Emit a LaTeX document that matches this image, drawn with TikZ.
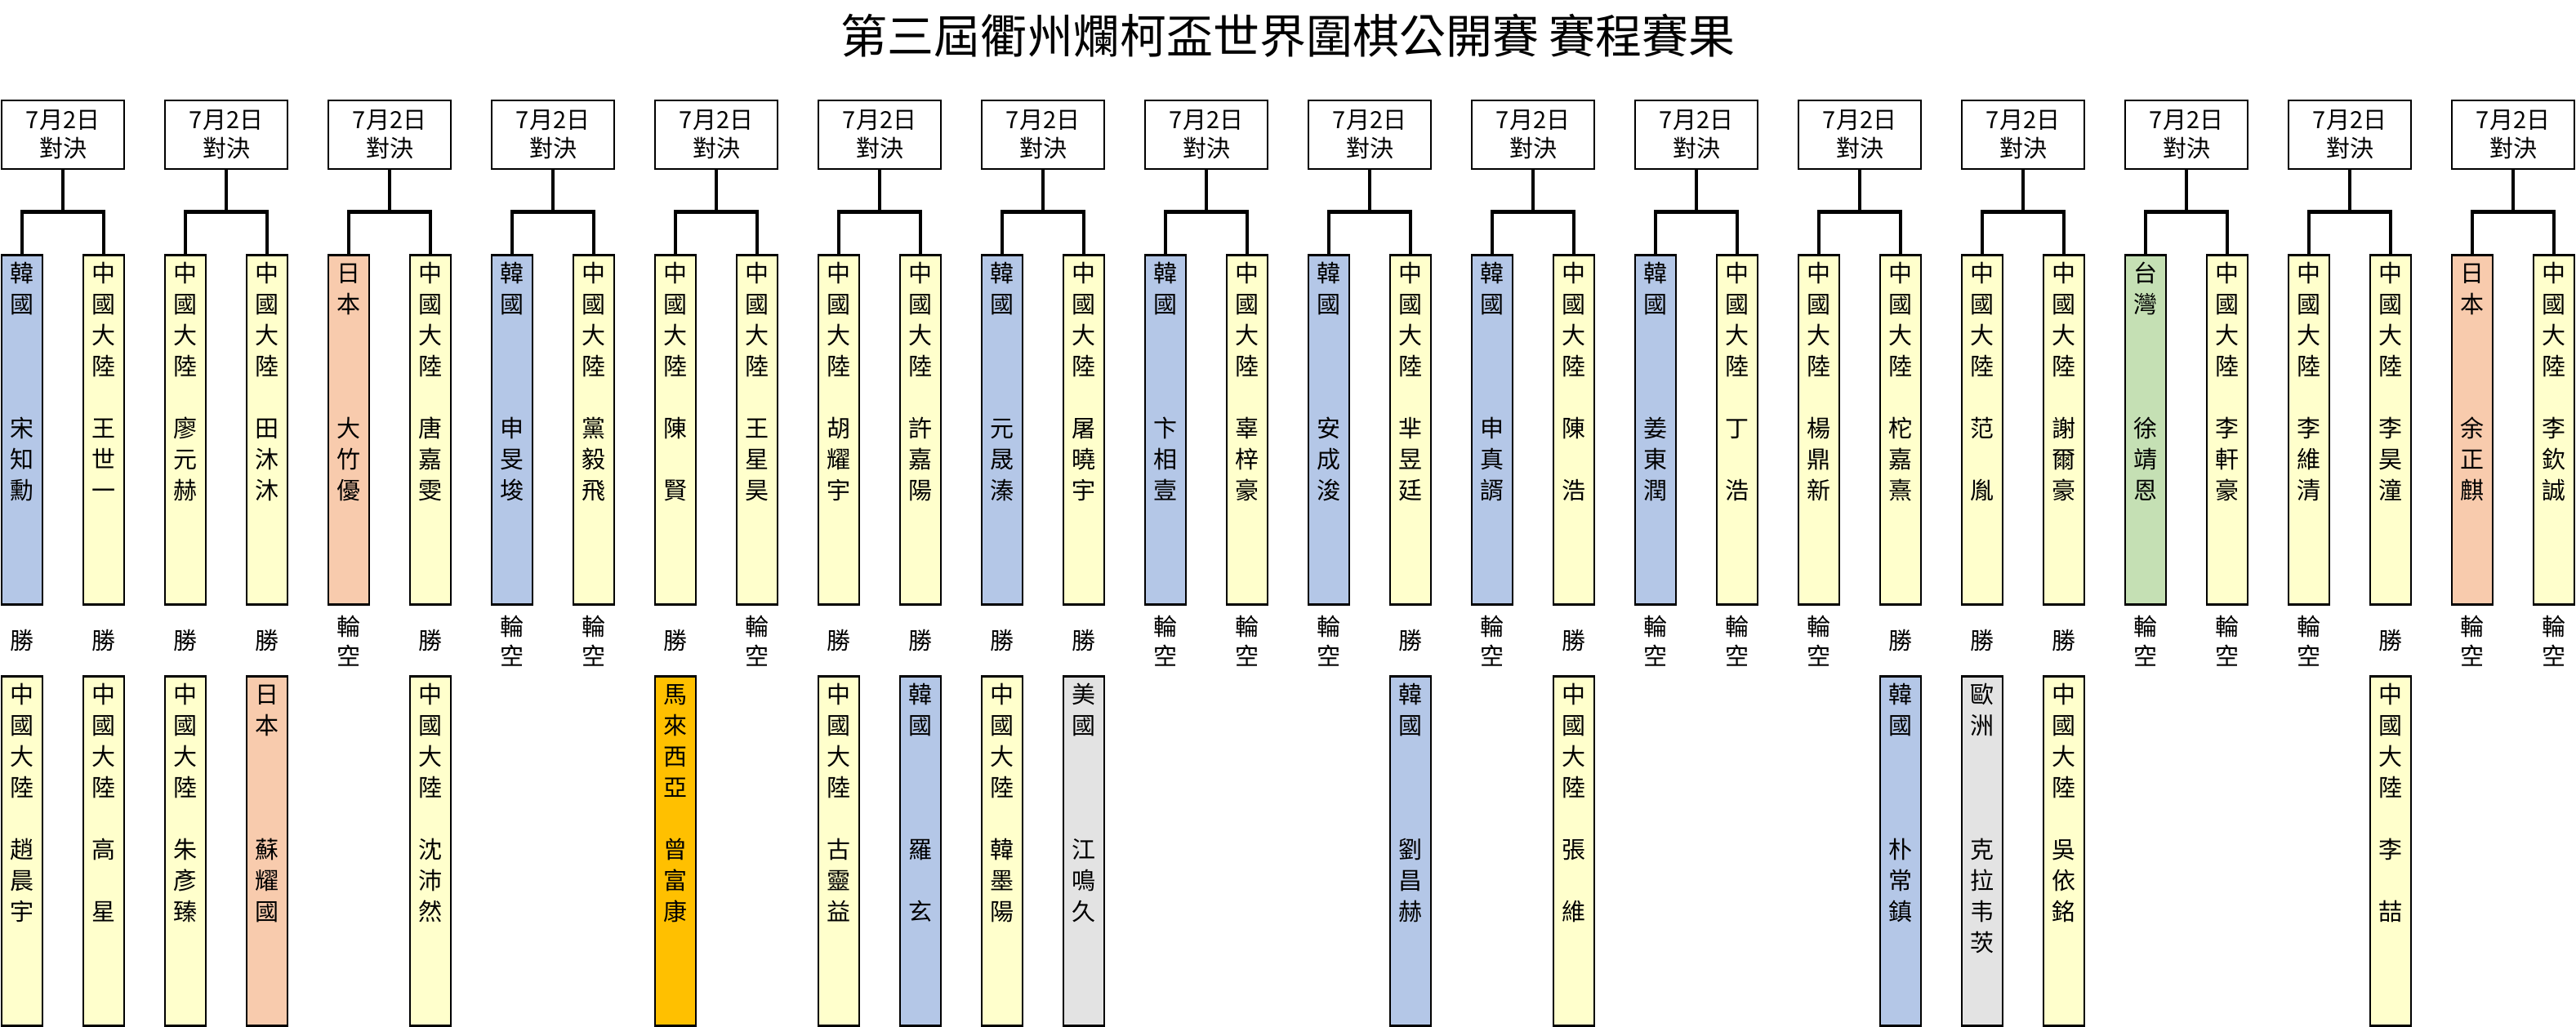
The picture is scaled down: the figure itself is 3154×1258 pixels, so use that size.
\documentclass[tikz,border=0pt]{standalone}
\usepackage{fontspec}
\setmainfont{Noto Sans CJK TC}

\definecolor{kr}{HTML}{B4C7E7}
\definecolor{cn}{HTML}{FFFFCC}
\definecolor{jp}{HTML}{F8CBAD}
\definecolor{tw}{HTML}{C5E0B4}
\definecolor{my}{HTML}{FFC000}
\definecolor{us}{HTML}{E3E3E3}
\colorlet{eu}{us}

\newcommand{\cnl}{中\\國\\大\\陸\\~\\}
\newcommand{\krl}{韓\\國\\~\\~\\~\\}
\newcommand{\jpl}{日\\本\\~\\~\\~\\}
\newcommand{\twl}{台\\灣\\~\\~\\~\\}

\begin{document}
\begin{tikzpicture}[x = 1pt, y = -1pt,
	datebox/.style = {draw, line width = 2.5pt, minimum width = 150pt, minimum height = 84pt,
		inner sep = 0pt, align = center, font = \fontsize{29}{35}\selectfont},
	pbox/.style = {draw, line width = 2.5pt, anchor = north, minimum width = 50pt, inner sep = 0pt,
		text width = 44pt, align = center, text height = 33pt, text depth = 395pt,
		font = \fontsize{29}{38}\selectfont},
	res/.style = {inner sep = 0pt, text width = 44pt, align = center, font = \fontsize{29}{36}\selectfont},
	link/.style = {line width = 4.5pt}]

	\useasboundingbox (0, 0) rectangle (3154, 1258);

	\node [font = \fontsize{57}{57}\selectfont] (title) at (1577, 44) {第三屆衢州爛柯盃世界圍棋公開賽 賽程賽果};

	% matches
	\foreach \i in {1, ..., 16}
		\node [datebox] (d\i) at (200 * \i - 123, 165) {7月2日\\對決};

	% first round players
	\foreach \n / \col / \txt in {
		1/kr/{\krl 宋\\知\\勳}, 2/cn/{\cnl 王\\世\\一},
		3/cn/{\cnl 廖\\元\\赫}, 4/cn/{\cnl 田\\沐\\沐},
		5/jp/{\jpl 大\\竹\\優}, 6/cn/{\cnl 唐\\嘉\\雯},
		7/kr/{\krl 申\\旻\\埈}, 8/cn/{\cnl 黨\\毅\\飛},
		9/cn/{\cnl 陳\\~\\賢}, 10/cn/{\cnl 王\\星\\昊},
		11/cn/{\cnl 胡\\耀\\宇}, 12/cn/{\cnl 許\\嘉\\陽},
		13/kr/{\krl 元\\晟\\溱}, 14/cn/{\cnl 屠\\曉\\宇},
		15/kr/{\krl 卞\\相\\壹}, 16/cn/{\cnl 辜\\梓\\豪},
		17/kr/{\krl 安\\成\\浚}, 18/cn/{\cnl 芈\\昱\\廷},
		19/kr/{\krl 申\\真\\諝}, 20/cn/{\cnl 陳\\~\\浩},
		21/kr/{\krl 姜\\東\\潤}, 22/cn/{\cnl 丁\\~\\浩},
		23/cn/{\cnl 楊\\鼎\\新}, 24/cn/{\cnl 柁\\嘉\\熹},
		25/cn/{\cnl 范\\~\\胤}, 26/cn/{\cnl 謝\\爾\\豪},
		27/tw/{\twl 徐\\靖\\恩}, 28/cn/{\cnl 李\\軒\\豪},
		29/cn/{\cnl 李\\維\\清}, 30/cn/{\cnl 李\\昊\\潼},
		31/jp/{\jpl 余\\正\\麒}, 32/cn/{\cnl 李\\欽\\誠}}
		\node [pbox, fill = \col] (u\n) at (100 * \n - 73, 311) {\txt};

	\foreach \i in {1, ..., 16} {
		\pgfmathtruncatemacro{\a}{2 * \i - 1}
		\pgfmathtruncatemacro{\b}{2 * \i}
		\draw [link] (d\i.south) -- ++(0, 51) coordinate (j\i);
		\draw [link] (u\a.north) |- (j\i) -| (u\b.north);
	}

	% results
	\foreach \n / \txt in {1/勝, 2/勝, 3/勝, 4/勝, 5/{輪\\空}, 6/勝, 7/{輪\\空}, 8/{輪\\空},
		9/勝, 10/{輪\\空}, 11/勝, 12/勝, 13/勝, 14/勝, 15/{輪\\空}, 16/{輪\\空},
		17/{輪\\空}, 18/勝, 19/{輪\\空}, 20/勝, 21/{輪\\空}, 22/{輪\\空}, 23/{輪\\空}, 24/勝,
		25/勝, 26/勝, 27/{輪\\空}, 28/{輪\\空}, 29/{輪\\空}, 30/勝, 31/{輪\\空}, 32/{輪\\空}}
		\node [res] (r\n) at (100 * \n - 73, 785) {\txt};

	% next round players
	\foreach \n / \col / \txt in {
		1/cn/{\cnl 趙\\晨\\宇}, 2/cn/{\cnl 高\\~\\星},
		3/cn/{\cnl 朱\\彥\\臻}, 4/jp/{\jpl 蘇\\耀\\國},
		6/cn/{\cnl 沈\\沛\\然},
		9/my/{馬\\來\\西\\亞\\~\\曾\\富\\康},
		11/cn/{\cnl 古\\靈\\益}, 12/kr/{\krl 羅\\~\\玄},
		13/cn/{\cnl 韓\\墨\\陽}, 14/us/{美\\國\\~\\~\\~\\江\\鳴\\久},
		18/kr/{\krl 劉\\昌\\赫}, 20/cn/{\cnl 張\\~\\維},
		24/kr/{\krl 朴\\常\\鎮}, 25/eu/{歐\\洲\\~\\~\\~\\克\\拉\\韦\\茨},
		26/cn/{\cnl 吳\\依\\銘}, 30/cn/{\cnl 李\\~\\喆}}
		\node [pbox, fill = \col] (l\n) at (100 * \n - 73, 827) {\txt};

\end{tikzpicture}
\end{document}
